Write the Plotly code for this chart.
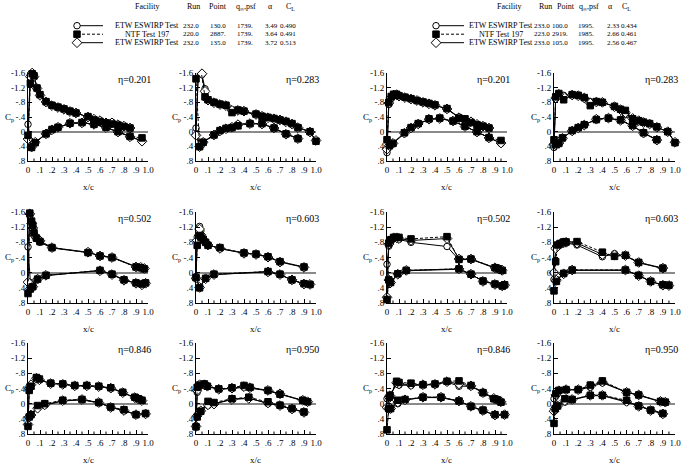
import plotly.graph_objects as go

# ---------------- data (x/c and Cp, upper surface TE->LE then lower surface LE->TE) -------------
ETAS = ["0.201", "0.283", "0.502", "0.603", "0.846", "0.950"]

# Left group  (q = 1739 psf)
X_L201 = [0.85, 0.8, 0.75, 0.7, 0.65, 0.6, 0.55, 0.5, 0.4, 0.35, 0.3, 0.25, 0.2, 0.15, 0.1, 0.075, 0.05, 0.035, 0.02, 0.0] + \
         [0.03, 0.06, 0.15, 0.2, 0.25, 0.35, 0.45, 0.55, 0.65, 0.75, 0.85, 0.95]
ETWA_L201 = [-0.11, -0.14, -0.18, -0.26, -0.25, -0.29, -0.33, -0.40, -0.52, -0.56, -0.62, -0.66, -0.72, -0.80, -1.0, -1.2, -1.55, -1.62, -1.55, -0.2] + \
            [0.42, 0.3, 0.05, -0.06, -0.11, -0.22, -0.24, -0.21, -0.12, 0.01, 0.13, 0.25]
NTF_L201 = [-0.10, -0.14, -0.18, -0.21, -0.24, -0.28, -0.32, -0.41, -0.51, -0.56, -0.62, -0.67, -0.72, -0.82, -1.01, -1.19, -1.52, -1.58, -1.32, 0.1] + \
           [0.43, 0.3, 0.06, -0.06, -0.12, -0.23, -0.25, -0.2, -0.12, 0.0, 0.13, 0.17]
ETWB_L201 = [-0.10, -0.15, -0.19, -0.24, -0.24, -0.30, -0.34, -0.40, -0.51, -0.55, -0.61, -0.66, -0.71, -0.81, -0.99, -1.18, -1.5, -1.6, -1.5, 0.2] + \
            [0.42, 0.29, 0.06, -0.05, -0.12, -0.23, -0.24, -0.2, -0.11, 0.01, 0.14, 0.26]

X_L283 = [1.0, 0.95, 0.85, 0.8, 0.75, 0.7, 0.65, 0.6, 0.55, 0.5, 0.4, 0.35, 0.3, 0.25, 0.2, 0.15, 0.1, 0.075, 0.05, 0.04, 0.02, 0.0] + \
         [0.03, 0.06, 0.15, 0.2, 0.25, 0.3, 0.35, 0.45, 0.55, 0.65, 0.75, 0.85]
ETWA_L283 = [0.25, 0.0, -0.12, -0.22, -0.28, -0.32, -0.36, -0.39, -0.43, -0.48, -0.57, -0.6, -0.6, -0.72, -0.75, -0.8, -0.87, -1.17, -1.56, -1.7, -1.7, -0.1] + \
            [0.4, 0.28, 0.08, -0.03, -0.09, -0.13, -0.2, -0.23, -0.21, -0.1, 0.06, 0.18]
NTF_L283 = [0.26, 0.0, -0.11, -0.22, -0.28, -0.32, -0.36, -0.39, -0.42, -0.48, -0.56, -0.59, -0.52, -0.72, -0.75, -0.8, -0.87, -0.95, -1.64, -1.7, -1.69, -1.44] + \
           [0.41, 0.29, 0.09, -0.03, -0.09, -0.11, -0.16, -0.22, -0.22, -0.1, 0.06, 0.19]
ETWB_L283 = [0.24, 0.01, -0.11, -0.21, -0.27, -0.32, -0.35, -0.38, -0.42, -0.47, -0.56, -0.58, -0.58, -0.71, -0.74, -0.79, -0.86, -1.1, -1.58, -1.66, -1.64, 0.1] + \
            [0.41, 0.29, 0.09, -0.02, -0.08, -0.12, -0.19, -0.22, -0.21, -0.1, 0.07, 0.19]

X_L502 = [0.97, 0.94, 0.9, 0.7, 0.6, 0.5, 0.2, 0.1, 0.07, 0.05, 0.04, 0.03, 0.015, 0.0] + \
         [0.02, 0.04, 0.08, 0.15, 0.6, 0.7, 0.8, 0.9, 0.95, 0.98]
ETWA_L502 = [-0.1, -0.13, -0.16, -0.41, -0.45, -0.53, -0.65, -0.8, -0.9, -1.05, -1.22, -1.35, -1.5, -0.68] + \
            [0.26, 0.35, 0.17, 0.08, -0.06, 0.04, 0.19, 0.27, 0.31, 0.27]
NTF_L502 = [-0.10, -0.13, -0.15, -0.40, -0.44, -0.53, -0.66, -0.82, -0.91, -1.05, -1.25, -1.36, -1.57, 0.55] + \
           [0.43, 0.37, 0.17, 0.07, -0.06, 0.04, 0.19, 0.27, 0.3, 0.27]
ETWB_L502 = [-0.11, -0.14, -0.15, -0.4, -0.44, -0.54, -0.66, -0.84, -0.92, -1.0, -1.18, -1.3, -1.55, 0.25] + \
            [0.42, 0.37, 0.17, 0.07, -0.05, 0.05, 0.2, 0.28, 0.32, 0.28]

X_L603 = [0.9, 0.7, 0.6, 0.5, 0.4, 0.2, 0.1, 0.08, 0.06, 0.04, 0.03, 0.01, 0.0] + \
         [0.03, 0.08, 0.15, 0.6, 0.7, 0.8, 0.9, 0.95]
ETWA_L603 = [-0.15, -0.29, -0.42, -0.49, -0.52, -0.63, -0.74, -0.82, -0.9, -1.1, -1.22, -0.94, 0.1] + \
            [0.38, 0.15, 0.05, -0.03, 0.05, 0.2, 0.29, 0.31]
NTF_L603 = [-0.15, -0.29, -0.42, -0.49, -0.52, -0.66, -0.72, -0.8, -0.88, -0.94, -0.98, -0.72, 0.13] + \
           [0.4, 0.15, 0.04, -0.03, 0.04, 0.19, 0.29, 0.31]
ETWB_L603 = [-0.14, -0.28, -0.41, -0.48, -0.51, -0.64, -0.73, -0.8, -0.86, -1.0, -1.15, -0.85, 0.15] + \
            [0.39, 0.16, 0.05, -0.02, 0.05, 0.19, 0.3, 0.31]

X_L846 = [0.95, 0.92, 0.89, 0.79, 0.69, 0.59, 0.49, 0.39, 0.29, 0.19, 0.095, 0.07, 0.025, 0.01, 0.0] + \
         [0.01, 0.025, 0.08, 0.14, 0.29, 0.45, 0.59, 0.69, 0.8, 0.9, 0.98]
ETWA_L846 = [-0.09, -0.13, -0.17, -0.3, -0.42, -0.45, -0.48, -0.48, -0.51, -0.54, -0.62, -0.68, -0.48, -0.46, 0.56] + \
            [0.34, 0.29, 0.11, 0.04, -0.07, -0.1, -0.02, 0.09, 0.19, 0.28, 0.26]
NTF_L846 = [-0.09, -0.13, -0.17, -0.3, -0.42, -0.46, -0.48, -0.48, -0.52, -0.54, -0.65, -0.69, -0.46, -0.35, 0.6] + \
           [0.35, 0.29, 0.05, 0.0, -0.09, -0.11, -0.03, 0.09, 0.16, 0.29, 0.26]
ETWB_L846 = [-0.08, -0.12, -0.16, -0.29, -0.41, -0.45, -0.47, -0.47, -0.51, -0.53, -0.63, -0.67, -0.5, -0.4, 0.55] + \
            [0.35, 0.3, 0.12, 0.03, -0.08, -0.11, -0.03, 0.1, 0.18, 0.29, 0.27]

X_L950 = [0.93, 0.89, 0.7, 0.6, 0.45, 0.4, 0.3, 0.19, 0.095, 0.07, 0.03, 0.01, 0.0] + \
         [0.01, 0.04, 0.1, 0.15, 0.3, 0.44, 0.6, 0.7, 0.8, 0.9]
ETWA_L950 = [-0.04, -0.08, -0.25, -0.34, -0.41, -0.43, -0.4, -0.38, -0.45, -0.5, -0.48, -0.3, 0.58] + \
            [0.3, 0.18, 0.05, 0.0, -0.12, -0.15, 0.0, 0.05, 0.14, 0.22]
NTF_L950 = [-0.05, -0.09, -0.25, -0.35, -0.43, -0.48, -0.42, -0.39, -0.46, -0.52, -0.49, -0.43, 0.61] + \
           [0.35, 0.2, -0.06, -0.03, -0.13, -0.17, -0.05, 0.04, 0.13, 0.22]
ETWB_L950 = [-0.05, -0.09, -0.26, -0.35, -0.42, -0.45, -0.41, -0.38, -0.46, -0.5, -0.5, -0.35, 0.6] + \
            [0.32, 0.19, 0.03, 0.01, -0.11, -0.14, -0.02, 0.05, 0.14, 0.23]

# Right group  (q = 1995 psf)
X_R201 = [0.85, 0.8, 0.75, 0.7, 0.65, 0.6, 0.5, 0.4, 0.35, 0.3, 0.25, 0.2, 0.15, 0.1, 0.08, 0.055, 0.035, 0.015, 0.0] + \
         [0.02, 0.05, 0.145, 0.2, 0.26, 0.35, 0.44, 0.55, 0.65, 0.75, 0.85, 0.95]
ETWA_R201 = [-0.09, -0.14, -0.19, -0.28, -0.3, -0.4, -0.62, -0.72, -0.76, -0.8, -0.84, -0.89, -0.93, -0.97, -1.0, -1.0, -0.9, -0.74, 0.57] + \
            [0.37, 0.31, 0.03, -0.1, -0.21, -0.33, -0.36, -0.28, -0.15, 0.01, 0.17, 0.32]
NTF_R201 = [-0.1, -0.15, -0.19, -0.25, -0.35, -0.37, -0.63, -0.73, -0.77, -0.81, -0.85, -0.9, -0.94, -0.98, -1.02, -1.02, -0.96, -0.8, 0.22] + \
           [0.38, 0.32, 0.03, -0.11, -0.22, -0.35, -0.37, -0.29, -0.15, 0.0, 0.16, 0.24]
ETWB_R201 = [-0.1, -0.15, -0.2, -0.27, -0.32, -0.38, -0.62, -0.72, -0.76, -0.8, -0.85, -0.89, -0.93, -0.97, -1.01, -1.0, -0.93, -0.78, 0.48] + \
            [0.38, 0.32, 0.04, -0.1, -0.21, -0.34, -0.36, -0.29, -0.14, 0.01, 0.17, 0.31]

X_R283 = [1.0, 0.94, 0.85, 0.79, 0.74, 0.7, 0.65, 0.59, 0.55, 0.5, 0.4, 0.35, 0.3, 0.25, 0.2, 0.15, 0.08, 0.04, 0.014, 0.0] + \
         [0.014, 0.04, 0.07, 0.15, 0.2, 0.25, 0.35, 0.45, 0.55, 0.65, 0.74, 0.85]
ETWA_R283 = [0.29, 0.01, -0.13, -0.22, -0.26, -0.3, -0.35, -0.46, -0.6, -0.69, -0.8, -0.82, -0.82, -0.93, -0.99, -1.0, -0.99, -1.0, -0.9, 0.43] + \
            [0.36, 0.33, 0.17, -0.02, -0.11, -0.18, -0.35, -0.36, -0.31, -0.15, 0.03, 0.22]
NTF_R283 = [0.3, 0.0, -0.13, -0.22, -0.26, -0.3, -0.35, -0.58, -0.61, -0.69, -0.8, -0.82, -0.71, -0.93, -0.99, -1.01, -0.87, -1.04, -0.95, 0.22] + \
           [0.35, 0.32, 0.17, -0.03, -0.11, -0.19, -0.33, -0.37, -0.32, -0.17, 0.03, 0.22]
ETWB_R283 = [0.29, 0.0, -0.12, -0.21, -0.25, -0.3, -0.36, -0.52, -0.6, -0.68, -0.8, -0.81, -0.78, -0.92, -0.98, -1.0, -0.95, -1.02, -0.92, 0.35] + \
            [0.35, 0.32, 0.18, -0.02, -0.1, -0.18, -0.34, -0.37, -0.31, -0.16, 0.04, 0.23]

X_R502 = [0.96, 0.93, 0.9, 0.7, 0.6, 0.5, 0.2, 0.1, 0.08, 0.055, 0.03, 0.015, 0.0] + \
         [0.015, 0.03, 0.09, 0.16, 0.6, 0.7, 0.8, 0.9, 0.96, 0.98]
ETWA_R502 = [-0.05, -0.09, -0.12, -0.35, -0.34, -0.69, -0.8, -0.88, -0.9, -0.9, -0.8, -0.7, -0.22] + \
            [0.2, 0.25, 0.04, -0.05, -0.09, 0.05, 0.22, 0.3, 0.34, 0.32]
NTF_R502 = [-0.06, -0.1, -0.13, -0.36, -0.35, -0.95, -0.89, -0.93, -0.93, -0.93, -0.87, -0.78, 0.71] + \
           [0.19, 0.26, 0.03, -0.06, -0.1, 0.04, 0.22, 0.3, 0.35, 0.32]
ETWB_R502 = [-0.06, -0.1, -0.13, -0.36, -0.36, -0.9, -0.85, -0.9, -0.92, -0.92, -0.85, -0.75, 0.65] + \
            [0.19, 0.26, 0.04, -0.06, -0.1, 0.04, 0.23, 0.31, 0.35, 0.33]

X_R603 = [0.9, 0.7, 0.59, 0.5, 0.4, 0.19, 0.1, 0.08, 0.05, 0.03, 0.014, 0.0] + \
         [0.02, 0.08, 0.15, 0.59, 0.7, 0.8, 0.9, 0.95]
ETWA_R603 = [-0.11, -0.26, -0.44, -0.5, -0.42, -0.73, -0.78, -0.77, -0.73, -0.7, -0.67, 0.18] + \
            [0.18, 0.03, -0.06, -0.06, 0.07, 0.24, 0.32, 0.33]
NTF_R603 = [-0.12, -0.27, -0.46, -0.43, -0.54, -0.82, -0.81, -0.81, -0.77, -0.73, -0.29, 0.48] + \
           [0.23, 0.02, -0.07, -0.07, 0.07, 0.23, 0.32, 0.33]
ETWB_R603 = [-0.12, -0.27, -0.45, -0.47, -0.48, -0.78, -0.8, -0.79, -0.75, -0.71, -0.64, 0.0] + \
            [0.2, 0.03, -0.07, -0.07, 0.08, 0.23, 0.33, 0.34]

X_R846 = [0.95, 0.92, 0.89, 0.8, 0.7, 0.6, 0.5, 0.4, 0.3, 0.2, 0.1, 0.08, 0.025, 0.02, 0.0] + \
         [0.015, 0.03, 0.09, 0.15, 0.3, 0.45, 0.6, 0.7, 0.8, 0.9, 0.98]
ETWA_R846 = [-0.04, -0.1, -0.13, -0.28, -0.46, -0.46, -0.57, -0.5, -0.49, -0.48, -0.49, -0.52, -0.2, -0.15, -0.13] + \
            [0.14, 0.12, 0.0, -0.1, -0.16, -0.16, -0.06, 0.08, 0.2, 0.29, 0.29]
NTF_R846 = [-0.04, -0.1, -0.13, -0.29, -0.48, -0.6, -0.59, -0.52, -0.5, -0.54, -0.56, -0.59, -0.22, -0.17, 0.69] + \
           [0.13, 0.13, -0.09, -0.11, -0.17, -0.17, -0.07, 0.07, 0.17, 0.29, 0.29]
ETWB_R846 = [-0.05, -0.1, -0.14, -0.29, -0.47, -0.52, -0.58, -0.51, -0.5, -0.5, -0.52, -0.55, -0.21, -0.16, 0.1] + \
            [0.13, 0.13, -0.04, -0.1, -0.17, -0.17, -0.07, 0.07, 0.18, 0.3, 0.29]

X_R950 = [0.92, 0.88, 0.7, 0.6, 0.4, 0.3, 0.2, 0.1, 0.04, 0.015, 0.0] + \
         [0.01, 0.03, 0.09, 0.15, 0.3, 0.4, 0.6, 0.7, 0.8, 0.9]
ETWA_R950 = [-0.03, -0.05, -0.22, -0.3, -0.55, -0.43, -0.37, -0.36, -0.33, -0.2, -0.13] + \
            [0.12, 0.05, -0.04, -0.1, -0.21, -0.21, -0.04, 0.06, 0.17, 0.26]
NTF_R950 = [-0.04, -0.06, -0.23, -0.3, -0.6, -0.49, -0.37, -0.37, -0.35, -0.26, 0.52] + \
           [0.13, 0.06, -0.13, -0.11, -0.22, -0.22, -0.09, 0.06, 0.17, 0.26]
ETWB_R950 = [-0.04, -0.06, -0.23, -0.3, -0.57, -0.46, -0.37, -0.37, -0.34, -0.23, 0.2] + \
            [0.13, 0.06, -0.08, -0.11, -0.22, -0.22, -0.06, 0.07, 0.18, 0.27]

# legend table
LEG_HEADER = ["Facility", "Run", "Point", "q<sub>∞</sub>,psf", "α", "C<sub>L</sub>"]
LEG_LEFT = [["ETW ESWIRP Test", "232.0", "130.0", "1739.", "3.49", "0.490"],
            ["NTF Test 197", "220.0", "2887.", "1739.", "3.64", "0.491"],
            ["ETW ESWIRP Test", "232.0", "135.0", "1739.", "3.72", "0.513"]]
LEG_RIGHT = [["ETW ESWIRP Test", "233.0", "100.0", "1995.", "2.33", "0.434"],
             ["NTF Test 197", "223.0", "2919.", "1985.", "2.66", "0.461"],
             ["ETW ESWIRP Test", "233.0", "105.0", "1995.", "2.56", "0.467"]]

XTICKS = [0, 0.1, 0.2, 0.3, 0.4, 0.5, 0.6, 0.7, 0.8, 0.9, 1.0]
XTICKTEXT = ["0", ".1", ".2", ".3", ".4", ".5", ".6", ".7", ".8", ".9", "1.0"]
XMINOR = [0.05, 0.15, 0.25, 0.35, 0.45, 0.55, 0.65, 0.75, 0.85, 0.95]
YTICKS = [-1.6, -1.2, -0.8, -0.4, 0, 0.4, 0.8]
YTICKTEXT = ["-1.6", "-1.2", "-.8", "-.4", "0", ".4", ".8"]

# ---------------- layout geometry -------------
W, H = 685, 465
FONT = "Liberation Serif"
col_px = [(28, 148), (196, 316), (387, 507), (554, 675)]
row_px = [(73, 161), (212, 303), (343, 434)]
LEG_H = 55  # pixel height of legend strip

panels = [
    (0, 0, ETAS[0], X_L201, ETWA_L201, NTF_L201, ETWB_L201),
    (0, 1, ETAS[1], X_L283, ETWA_L283, NTF_L283, ETWB_L283),
    (1, 0, ETAS[2], X_L502, ETWA_L502, NTF_L502, ETWB_L502),
    (1, 1, ETAS[3], X_L603, ETWA_L603, NTF_L603, ETWB_L603),
    (2, 0, ETAS[4], X_L846, ETWA_L846, NTF_L846, ETWB_L846),
    (2, 1, ETAS[5], X_L950, ETWA_L950, NTF_L950, ETWB_L950),
    (0, 2, ETAS[0], X_R201, ETWA_R201, NTF_R201, ETWB_R201),
    (0, 3, ETAS[1], X_R283, ETWA_R283, NTF_R283, ETWB_R283),
    (1, 2, ETAS[2], X_R502, ETWA_R502, NTF_R502, ETWB_R502),
    (1, 3, ETAS[3], X_R603, ETWA_R603, NTF_R603, ETWB_R603),
    (2, 2, ETAS[4], X_R846, ETWA_R846, NTF_R846, ETWB_R846),
    (2, 3, ETAS[5], X_R950, ETWA_R950, NTF_R950, ETWB_R950),
]

fig = go.Figure()
layout = dict(template="none", width=W, height=H, margin=dict(l=0, r=0, t=0, b=0, pad=0),
              paper_bgcolor="white", plot_bgcolor="rgba(0,0,0,0)", showlegend=False,
              font=dict(family=FONT, size=9, color="black"))
annotations = []
shapes = []

NTF_DASH = "3px,2px"
styles = [  # drawn order: etwa, etwb, ntf
    ("etwa", dict(symbol="circle", size=6.5, color="white", line=dict(color="black", width=1)), "solid"),
    ("etwb", dict(symbol="diamond", size=7.5, color="white", line=dict(color="black", width=1)), "solid"),
    ("ntf", dict(symbol="square", size=6.5, color="black", line=dict(color="black", width=1)), NTF_DASH),
]

for i, (r, c, eta, xs, ea, nt, eb) in enumerate(panels):
    k = i + 1
    xa = "x" if k == 1 else f"x{k}"
    ya = "y" if k == 1 else f"y{k}"
    series = {"etwa": ea, "ntf": nt, "etwb": eb}
    for name, mk, dash in styles:
        fig.add_trace(go.Scatter(x=xs, y=series[name], mode="lines+markers", xaxis=xa, yaxis=ya,
                                 line=dict(color="black", width=1, dash=dash), marker=mk,
                                 cliponaxis=False, hoverinfo="skip"))
    x0, x1 = col_px[c]
    y0, y1 = row_px[r]
    layout["xaxis" if k == 1 else f"xaxis{k}"] = dict(
        domain=[x0 / W, x1 / W], anchor=ya, range=[0, 1.0], showline=True, linecolor="black",
        linewidth=1, ticks="inside", ticklen=4, tickwidth=1, tickcolor="black", tickmode="array",
        tickvals=XTICKS, ticktext=XTICKTEXT, showgrid=False, zeroline=False, fixedrange=True,
        automargin=False, tickfont=dict(family=FONT, size=9, color="black"))
    layout["yaxis" if k == 1 else f"yaxis{k}"] = dict(
        domain=[1 - y1 / H, 1 - y0 / H], anchor=xa, range=[0.8, -1.6], showline=True,
        linecolor="black", linewidth=1, ticks="inside", ticklen=4, tickwidth=1, tickcolor="black",
        tickmode="array", tickvals=YTICKS, ticktext=YTICKTEXT, showgrid=False, zeroline=True,
        zerolinecolor="#8a8a8a", zerolinewidth=1.5, fixedrange=True, automargin=False,
        tickfont=dict(family=FONT, size=9, color="black"))
    # minor x ticks
    for mv in XMINOR:
        shapes.append(dict(type="line", xref=xa, yref=ya, x0=mv, x1=mv, ysizemode="pixel",
                           yanchor=0.8, y0=0, y1=2.5, line=dict(color="black", width=1)))
    annotations.append(dict(text=f"η={eta}", x=1, xshift=5, y=-1.42, xref=f"{xa} domain", yref=ya,
                            showarrow=False, xanchor="right", yanchor="middle",
                            font=dict(family=FONT, size=10, color="black")))
    annotations.append(dict(text="C<sub>p</sub>", x=0, xshift=-19, y=-0.4, xref=f"{xa} domain", yref=ya,
                            showarrow=False, xanchor="center", yanchor="middle",
                            font=dict(family=FONT, size=9, color="black")))
    annotations.append(dict(text="x/c", x=0.5, y=0, yshift=-26, xref=f"{xa} domain", yref=f"{ya} domain",
                            showarrow=False, xanchor="center", yanchor="middle",
                            font=dict(family=FONT, size=9, color="black")))

# ---------------- legend (hidden pixel-coordinate axis over the top strip) -------------
k = len(panels) + 1
lx, ly = f"x{k}", f"y{k}"
layout[f"xaxis{k}"] = dict(domain=[0, 1], range=[0, W], visible=False, fixedrange=True, anchor=ly,
                           automargin=False)
layout[f"yaxis{k}"] = dict(domain=[1 - LEG_H / H, 1], range=[LEG_H, 0], visible=False, fixedrange=True,
                           anchor=lx, automargin=False)

legend_groups = [
    (77, 103, [147, 193, 218, 246, 270, 290], [147, 191, 218, 245, 271, 288], LEG_LEFT),
    (436, 464, [509, 545, 566, 589, 610, 626], [501, 542, 560, 586, 613, 629], LEG_RIGHT),
]
row_y = [25.7, 34.2, 42.7]
leg_styles = [styles[0], styles[2], styles[1]]  # etwa, ntf, etwb rows
for gx0, gx1, hcols, cols, rows in legend_groups:
    for j, h in enumerate(LEG_HEADER):
        annotations.append(dict(text=h, x=hcols[j], y=6.5, xref=lx, yref=ly, showarrow=False,
                                xanchor="center", yanchor="middle", font=dict(family=FONT, size=8, color="black")))
    for ri, rowvals in enumerate(rows):
        name, mk, dash = leg_styles[ri]
        fig.add_trace(go.Scatter(x=[gx0, gx1], y=[row_y[ri], row_y[ri]], mode="lines", xaxis=lx, yaxis=ly,
                                 line=dict(color="black", width=1, dash=dash), hoverinfo="skip"))
        fig.add_trace(go.Scatter(x=[gx0], y=[row_y[ri]], mode="markers", xaxis=lx, yaxis=ly,
                                 marker=mk, hoverinfo="skip", cliponaxis=False))
        for j, v in enumerate(rowvals):
            annotations.append(dict(text=v, x=cols[j], y=row_y[ri], xref=lx, yref=ly, showarrow=False,
                                    xanchor="center", yanchor="middle",
                                    font=dict(family=FONT, size=8 if j == 0 else 7, color="black")))

layout["annotations"] = annotations
layout["shapes"] = shapes
fig.update_layout(**layout)
fig.write_html("out.html", config={"displayModeBar": False},
               post_script="document.body.style.margin='0';document.body.style.padding='0';")
